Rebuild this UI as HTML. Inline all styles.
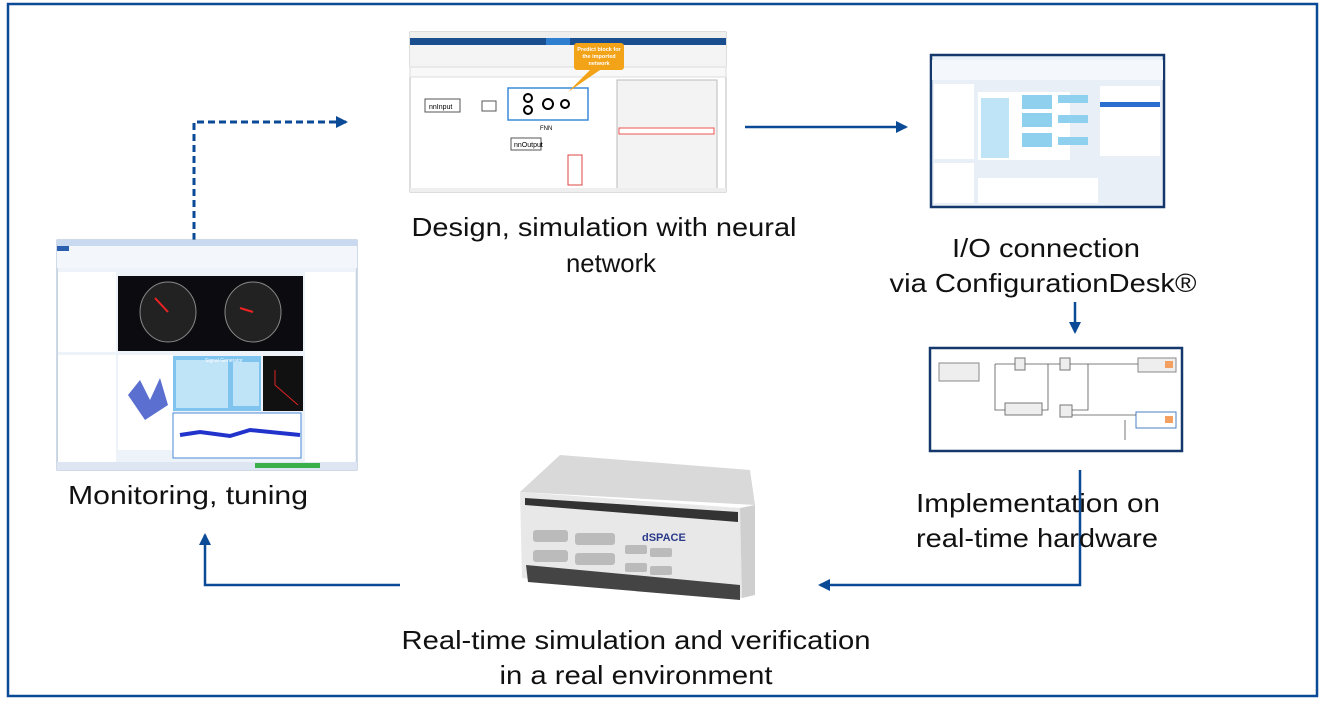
<!DOCTYPE html>
<html><head><meta charset="utf-8"><style>
html,body{margin:0;padding:0;background:#fff;}
svg{display:block;font-family:"Liberation Sans",sans-serif;}
</style></head><body>
<svg width="1325" height="711" viewBox="0 0 1325 711" xmlns="http://www.w3.org/2000/svg">
<defs>
<marker id="ah" markerWidth="8" markerHeight="8" refX="6" refY="4" orient="auto" markerUnits="userSpaceOnUse"><path d="M0,0 L8,4 L0,8 z" fill="#0b4a96"/></marker>
<marker id="ah2" markerWidth="14" markerHeight="14" refX="10" refY="6" orient="auto" markerUnits="userSpaceOnUse"><path d="M0,0 L12,6 L0,12 z" fill="#0b4a96"/></marker>
</defs>
<rect x="8" y="4" width="1309" height="692" fill="#fff" stroke="#0b4a96" stroke-width="2.5"/>

<!-- arrows -->
<path d="M194,240 V122 H346" fill="none" stroke="#0b4a96" stroke-width="3" stroke-dasharray="7,4" marker-end="url(#ah2)"/>
<path d="M745,127 H906" fill="none" stroke="#0b4a96" stroke-width="2.5" marker-end="url(#ah2)"/>
<path d="M1075,302 V332" fill="none" stroke="#0b4a96" stroke-width="2.5" marker-end="url(#ah2)"/>
<path d="M1080,470 V585 H820" fill="none" stroke="#0b4a96" stroke-width="2.5" marker-end="url(#ah2)"/>
<path d="M400,585 H205 V535" fill="none" stroke="#0b4a96" stroke-width="2.5" marker-end="url(#ah2)"/>

<!-- Monitoring screenshot -->
<g>
<rect x="57" y="240" width="300" height="230" fill="#eef3f9" stroke="#9fb4cc"/>
<rect x="57" y="240" width="300" height="6" fill="#c9daf0"/>
<rect x="57" y="246" width="300" height="22" fill="#f3f6fa"/>
<rect x="57" y="246" width="12" height="5" fill="#2a5fb0"/>
<rect x="118" y="276" width="185" height="75" fill="#0c0c10"/>
<ellipse cx="168" cy="312" rx="28" ry="30" fill="#222" stroke="#888"/>
<ellipse cx="253" cy="312" rx="28" ry="30" fill="#222" stroke="#888"/>
<line x1="168" y1="312" x2="155" y2="298" stroke="#e22" stroke-width="2"/>
<line x1="253" y1="312" x2="240" y2="308" stroke="#e22" stroke-width="2"/>
<rect x="58" y="272" width="58" height="80" fill="#fff"/>
<rect x="305" y="272" width="50" height="195" fill="#fff"/>
<rect x="58" y="355" width="58" height="110" fill="#fff"/>
<rect x="118" y="355" width="55" height="95" fill="#fff"/>
<path d="M128,395 L140,380 L150,400 L160,378 L168,405 L145,420 Z" fill="#5a6fcf"/>
<rect x="173" y="356" width="88" height="55" fill="#7fc4ee"/>
<rect x="176" y="360" width="52" height="48" fill="#bfe3f7"/>
<rect x="233" y="362" width="26" height="44" fill="#bfe3f7"/>
<text x="205" y="362" font-size="5" fill="#fff">Signal Generator</text>
<rect x="263" y="356" width="40" height="55" fill="#111"/>
<path d="M275,370 L275,385 L298,405" fill="none" stroke="#d22"/>
<rect x="173" y="413" width="128" height="45" fill="#fff" stroke="#4a8ad6"/>
<path d="M180,435 L200,432 L230,436 L250,430 L300,435" stroke="#2233cc" stroke-width="4" fill="none"/>
<rect x="57" y="462" width="300" height="8" fill="#dde6f2"/>
<rect x="255" y="463" width="65" height="5" fill="#3ab04a"/>
</g>

<!-- Simulink screenshot -->
<g>
<rect x="410" y="32" width="316" height="160" fill="#fff" stroke="#bbb"/>
<rect x="410" y="32" width="316" height="6" fill="#eee"/>
<rect x="410" y="38" width="316" height="7" fill="#1a4f8f"/>
<rect x="546" y="38" width="24" height="7" fill="#2f7fd0"/>
<rect x="410" y="45" width="316" height="22" fill="#f4f4f4"/>
<rect x="410" y="67" width="316" height="10" fill="#f8f8f8" stroke="#ddd"/>
<rect x="425" y="99" width="35" height="13" fill="#fff" stroke="#555"/>
<text x="429" y="109" font-size="7">nnInput</text>
<rect x="482" y="101" width="14" height="10" fill="#fff" stroke="#555"/>
<rect x="508" y="88" width="80" height="32" fill="#fff" stroke="#3a8ad8" stroke-width="1.5"/>
<circle cx="528" cy="98" r="4" fill="none" stroke="#000" stroke-width="2"/>
<circle cx="528" cy="110" r="4" fill="none" stroke="#000" stroke-width="2"/>
<circle cx="548" cy="104" r="5" fill="none" stroke="#000" stroke-width="2"/>
<circle cx="565" cy="104" r="4" fill="none" stroke="#000" stroke-width="2"/>
<text x="540" y="130" font-size="6">FNN</text>
<rect x="511" y="138" width="30" height="12" fill="#fff" stroke="#555"/>
<text x="514" y="147" font-size="7">nnOutput</text>
<rect x="568" y="155" width="14" height="30" fill="#fff" stroke="#d44"/>
<text x="569" y="192" font-size="5" fill="#d44">SOC</text>
<rect x="574" y="43" width="50" height="27" rx="3" fill="#f3a318"/>
<polygon points="590,70 600,70 568,92" fill="#f3a318"/>
<text x="599" y="51" font-size="5.5" fill="#fff" font-weight="bold" text-anchor="middle">Predict block for</text>
<text x="599" y="58" font-size="5.5" fill="#fff" font-weight="bold" text-anchor="middle">the imported</text>
<text x="599" y="65" font-size="5.5" fill="#fff" font-weight="bold" text-anchor="middle">network</text>
<rect x="617" y="80" width="100" height="110" fill="#f3f3f3" stroke="#bbb"/>
<rect x="619" y="128" width="95" height="6" fill="#fff" stroke="#e55"/>
<rect x="410" y="188" width="316" height="4" fill="#eee"/>
</g>

<!-- ConfigurationDesk screenshot -->
<g>
<rect x="931" y="55" width="233" height="152" fill="#e9eff7" stroke="#14386b" stroke-width="2.5"/>
<rect x="932" y="60" width="231" height="20" fill="#f4f7fb"/>
<rect x="934" y="84" width="40" height="75" fill="#fff"/>
<rect x="978" y="92" width="92" height="68" fill="#fff"/>
<rect x="981" y="98" width="28" height="60" fill="#bfe3f7"/>
<rect x="1022" y="95" width="30" height="14" fill="#8fd0ef"/>
<rect x="1022" y="113" width="30" height="14" fill="#8fd0ef"/>
<rect x="1022" y="133" width="30" height="14" fill="#8fd0ef"/>
<rect x="1058" y="95" width="30" height="8" fill="#8fd0ef"/>
<rect x="1058" y="115" width="30" height="8" fill="#8fd0ef"/>
<rect x="1058" y="137" width="30" height="8" fill="#8fd0ef"/>
<rect x="1100" y="86" width="60" height="70" fill="#fff"/>
<rect x="1100" y="102" width="60" height="5" fill="#2a6fd0"/>
<rect x="934" y="163" width="40" height="40" fill="#fff"/>
<rect x="978" y="178" width="120" height="25" fill="#fff"/>
</g>

<!-- Simulink model -->
<g>
<rect x="930" y="348" width="252" height="103" fill="#fff" stroke="#14386b" stroke-width="2.5"/>
<rect x="939" y="363" width="40" height="18" fill="#eee" stroke="#888"/>
<rect x="1015" y="358" width="10" height="12" fill="#eee" stroke="#777"/>
<rect x="1060" y="358" width="10" height="12" fill="#eee" stroke="#777"/>
<rect x="1138" y="358" width="38" height="14" fill="#eee" stroke="#888"/>
<rect x="1165" y="361" width="8" height="7" fill="#f4a060"/>
<rect x="1005" y="403" width="37" height="12" fill="#eee" stroke="#777"/>
<rect x="1060" y="405" width="12" height="12" fill="#eee" stroke="#777"/>
<rect x="1136" y="412" width="40" height="16" fill="#fff" stroke="#4a7fc0"/>
<rect x="1165" y="416" width="8" height="7" fill="#f4a060"/>
<path d="M995,364 H1015 M1025,364 H1060 M1070,364 H1138 M995,364 V410 H1005 M1042,410 H1048 V364 M1072,410 H1088 V364 M1072,415 H1136 M1125,420 V440" fill="none" stroke="#555" stroke-width="0.8"/>
</g>

<!-- hardware -->
<g>
<polygon points="520,492 560,455 750,470 755,505" fill="#d9d9d9"/>
<polygon points="520,492 740,508 742,598 522,578" fill="#e8e8e8"/>
<polygon points="740,508 755,505 755,595 742,598" fill="#cfcfcf"/>
<polygon points="525,498 738,512 738,522 525,505" fill="#333"/>
<rect x="533" y="530" width="35" height="12" rx="3" fill="#bbb"/>
<rect x="575" y="533" width="40" height="12" rx="3" fill="#bbb"/>
<rect x="533" y="550" width="35" height="12" rx="3" fill="#bbb"/>
<rect x="575" y="553" width="40" height="12" rx="3" fill="#bbb"/>
<rect x="625" y="545" width="22" height="9" rx="2" fill="#bbb"/>
<rect x="650" y="548" width="22" height="9" rx="2" fill="#bbb"/>
<rect x="625" y="563" width="22" height="9" rx="2" fill="#bbb"/>
<rect x="650" y="566" width="22" height="9" rx="2" fill="#bbb"/>
<text x="642" y="541" font-size="11" font-weight="bold" fill="#2a3a8a">dSPACE</text>
<polygon points="526,565 740,585 740,600 528,582" fill="#444"/>
</g>

<!-- labels -->
<g font-size="26" fill="#111" text-anchor="middle">
<text x="604" y="236" textLength="385" lengthAdjust="spacingAndGlyphs">Design, simulation with neural</text>
<text x="611" y="272" textLength="90" lengthAdjust="spacingAndGlyphs">network</text>
<text x="1046" y="257" textLength="188" lengthAdjust="spacingAndGlyphs">I/O connection</text>
<text x="1043" y="292" textLength="307" lengthAdjust="spacingAndGlyphs">via ConfigurationDesk®</text>
<text x="1038" y="512" textLength="244" lengthAdjust="spacingAndGlyphs">Implementation on</text>
<text x="1037" y="547" textLength="242" lengthAdjust="spacingAndGlyphs">real-time hardware</text>
<text x="188" y="504" textLength="240" lengthAdjust="spacingAndGlyphs">Monitoring, tuning</text>
<text x="636" y="649" textLength="469" lengthAdjust="spacingAndGlyphs">Real-time simulation and verification</text>
<text x="636" y="684" textLength="273" lengthAdjust="spacingAndGlyphs">in a real environment</text>
</g>
</svg>
</body></html>
